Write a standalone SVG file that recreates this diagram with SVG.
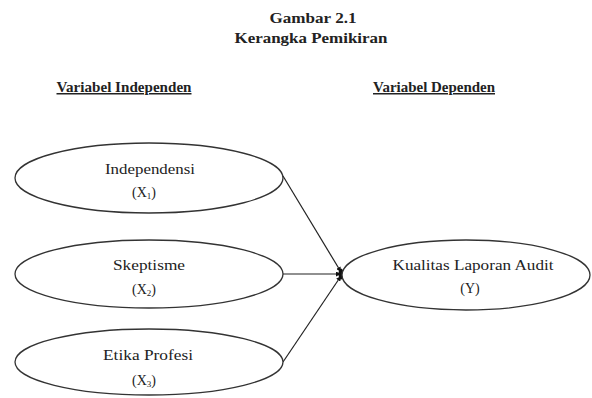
<svg xmlns="http://www.w3.org/2000/svg" width="592" height="398" viewBox="0 0 592 398">
<style>
.t{font-family:"Liberation Serif","Times New Roman",serif;fill:#222;}
.h{font-weight:bold;font-size:15px;text-anchor:middle;}
.u{text-decoration:underline;}
.n{font-size:14px;text-anchor:middle;}
.s{font-size:9px;}
.e{fill:#fff;stroke:#333;stroke-width:1.3;}
.c{stroke:#222;stroke-width:1.2;fill:none;marker-end:url(#a);}
</style>
<defs>
<marker id="a" viewBox="0 0 10 10" refX="10" refY="5" markerWidth="5" markerHeight="5" markerUnits="userSpaceOnUse" orient="auto">
<path d="M0,0 L10,5 L0,10 z" fill="#111"/>
</marker>
</defs>
<rect width="592" height="398" fill="#fff"/>
<g id="title">
<text class="t h" x="313" y="23" textLength="87" lengthAdjust="spacingAndGlyphs">Gambar 2.1</text>
<text class="t h" x="311" y="43" textLength="153" lengthAdjust="spacingAndGlyphs">Kerangka Pemikiran</text>
</g>
<g id="heading-independen">
<text class="t h u" x="124" y="92" textLength="135" lengthAdjust="spacingAndGlyphs">Variabel Independen</text>
</g>
<g id="heading-dependen">
<text class="t h u" x="434" y="92" textLength="122" lengthAdjust="spacingAndGlyphs">Variabel Dependen</text>
</g>
<g id="connectors">
<line class="c" x1="283" y1="176" x2="341" y2="272"/>
<line class="c" x1="283" y1="274" x2="341" y2="274"/>
<line class="c" x1="283" y1="362" x2="341" y2="276"/>
<ellipse cx="341" cy="274" rx="2.5" ry="5.5" fill="#111"/>
</g>
<g id="x1">
<ellipse class="e" cx="149" cy="178" rx="134" ry="35"/>
<text class="t n" x="150" y="174" textLength="90" lengthAdjust="spacingAndGlyphs">Independensi</text>
<text class="t n" x="144" y="197">(X<tspan class="s" dy="2">1</tspan><tspan dy="-2">)</tspan></text>
</g>
<g id="x2">
<ellipse class="e" cx="149" cy="274" rx="134" ry="34"/>
<text class="t n" x="149" y="270" textLength="72" lengthAdjust="spacingAndGlyphs">Skeptisme</text>
<text class="t n" x="144" y="294">(X<tspan class="s" dy="2">2</tspan><tspan dy="-2">)</tspan></text>
</g>
<g id="x3">
<ellipse class="e" cx="149" cy="362" rx="134" ry="33"/>
<text class="t n" x="148" y="360" textLength="90" lengthAdjust="spacingAndGlyphs">Etika Profesi</text>
<text class="t n" x="144" y="385">(X<tspan class="s" dy="2">3</tspan><tspan dy="-2">)</tspan></text>
</g>
<g id="y">
<ellipse class="e" cx="466" cy="275" rx="124" ry="35"/>
<text class="t n" x="473" y="270" textLength="161" lengthAdjust="spacingAndGlyphs">Kualitas Laporan  Audit</text>
<text class="t n" x="470" y="293">(Y)</text>
</g>
</svg>
